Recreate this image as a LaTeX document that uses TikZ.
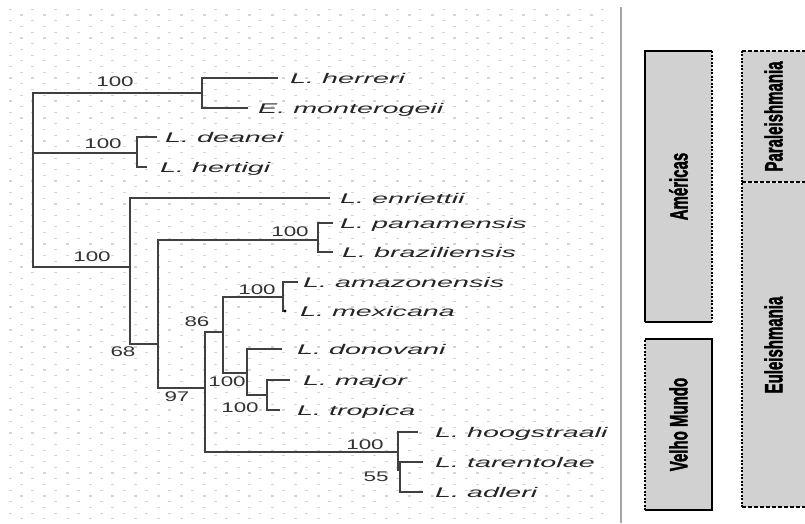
\documentclass[tikz,border=0pt]{standalone}
\usepackage{fontspec}
\setmainfont{Liberation Sans}
\newfontfamily\regionfont[FakeBold=2]{Liberation Sans}
\usepackage{graphicx}
\usetikzlibrary{positioning}

\newcommand{\taxon}[1]{\scalebox{2.05}[1]{\itshape #1}}
\newcommand{\bsval}[1]{\scalebox{1.6}[1]{#1}}
\newcommand{\regname}[1]{\scalebox{0.6}[1]{\regionfont\bfseries #1}}

\begin{document}
\begin{tikzpicture}[x=1pt, y=-1pt,
  branch/.style={draw=black!75, line width=1.4pt},
  taxon/.style={anchor=base west, inner sep=0pt, text=black!85,
                font=\fontsize{14}{16}\selectfont},
  support/.style={inner sep=0pt, text=black!80, font=\fontsize{14}{16}\selectfont},
  bgdot/.style={fill=black!17},
  region/.style={fill=black!18, inner sep=0pt, outer sep=0pt},
  regionname/.style={rotate=90, inner sep=0pt, font=\fontsize{25}{27}\selectfont},
  solidedge/.style={line width=1.6pt},
  dotedge/.style={line width=2pt, dash pattern=on 2pt off 1.5pt},
  dashedge/.style={line width=2pt, dash pattern=on 4pt off 2pt},
  ]
  \useasboundingbox (0,0) rectangle (805,523);
  \fill[white] (0,0) rectangle (805,523);

  % dotted paper behind the tree
  \foreach \j in {0,...,45} {
    \foreach \i in {0,...,26}
      \fill[bgdot] (8.5+22.8*\i, 8.7+11.45*\j) rectangle ++(3,1.2);
    \foreach \i in {0,...,25}
      \fill[bgdot] (20.1+22.8*\i, 14.4+11.45*\j) rectangle ++(3,1.2);
  }
  \draw[black!35, line width=2pt] (621,7) -- (621,523);

  % internal nodes
  \coordinate (root)     at (33,180);
  \coordinate (endo)     at (202,93);
  \coordinate (deaclade) at (137,153);
  \coordinate (leish)    at (130,267);
  \coordinate (leish2)   at (158,344);
  \coordinate (vian)     at (318,240);
  \coordinate (leish3)   at (205,388);
  \coordinate (leish4)   at (223,332);
  \coordinate (mex)      at (283,297);
  \coordinate (don)      at (247,373);
  \coordinate (maj)      at (267,395);
  \coordinate (sauro)    at (398,452);
  \coordinate (sauro2)   at (400,470);

  % tips
  \coordinate (t-herreri)      at (278,78);
  \coordinate (t-monterogeii)  at (248,108);
  \coordinate (t-deanei)       at (157,137);
  \coordinate (t-hertigi)      at (147,167);
  \coordinate (t-enriettii)    at (330,198);
  \coordinate (t-panamensis)   at (333,223);
  \coordinate (t-braziliensis) at (333,252);
  \coordinate (t-amazonensis)  at (298,282);
  \coordinate (t-mexicana)     at (285,311);
  \coordinate (t-donovani)     at (282,349);
  \coordinate (t-major)        at (290,380);
  \coordinate (t-tropica)      at (280,410);
  \coordinate (t-hoogstraali)  at (418,432);
  \coordinate (t-tarentolae)   at (423,462);
  \coordinate (t-adleri)       at (423,492);

  \draw[branch] (root) |- (endo);
  \draw[branch] (root) |- (deaclade);
  \draw[branch] (root) |- (leish);
  \draw[branch] (endo) |- (t-herreri);
  \draw[branch] (endo) |- (t-monterogeii);
  \draw[branch] (deaclade) |- (t-deanei);
  \draw[branch] (deaclade) |- (t-hertigi);
  \draw[branch] (leish) |- (t-enriettii);
  \draw[branch] (leish) |- (leish2);
  \draw[branch] (leish2) |- (vian);
  \draw[branch] (leish2) |- (leish3);
  \draw[branch] (vian) |- (t-panamensis);
  \draw[branch] (vian) |- (t-braziliensis);
  \draw[branch] (leish3) |- (leish4);
  \draw[branch] (leish3) |- (sauro);
  \draw[branch] (leish4) |- (mex);
  \draw[branch] (leish4) |- (don);
  \draw[branch] (mex) |- (t-amazonensis);
  \draw[branch] (mex) |- (t-mexicana);
  \fill[black] (t-mexicana) circle (1.6);
  \draw[branch] (don) |- (t-donovani);
  \draw[branch] (don) |- (maj);
  \draw[branch] (maj) |- (t-major);
  \draw[branch] (maj) |- (t-tropica);
  \draw[branch] (sauro) |- (t-hoogstraali);
  \draw[branch] (sauro) |- (sauro2);
  \draw[branch] (sauro2) |- (t-tarentolae);
  \draw[branch] (sauro2) |- (t-adleri);

  % bootstrap values
  \node[support] (bs-endo)   at (115,82)  {\bsval{100}};
  \node[support] (bs-dea)    at (103,144) {\bsval{100}};
  \node[support] (bs-leish)  at (92,257)  {\bsval{100}};
  \node[support] (bs-vian)   at (290,232) {\bsval{100}};
  \node[support] (bs-leish2) at (123,352) {\bsval{68}};
  \node[support] (bs-leish3) at (177,397) {\bsval{97}};
  \node[support] (bs-leish4) at (197,322) {\bsval{86}};
  \node[support] (bs-mex)    at (257,290) {\bsval{100}};
  \node[support] (bs-don)    at (227,382) {\bsval{100}};
  \node[support] (bs-maj)    at (240,408) {\bsval{100}};
  \node[support] (bs-sauro)  at (365,445) {\bsval{100}};
  \node[support] (bs-sauro2) at (376,477) {\bsval{55}};

  % species names
  \node[taxon] (herreri)      at (290,83)  {\taxon{L. herreri}};
  \node[taxon] (monterogeii)  at (258,113) {\taxon{E. monterogeii}};
  \node[taxon] (deanei)       at (165,142) {\taxon{L. deanei}};
  \node[taxon] (hertigi)      at (160,172) {\taxon{L. hertigi}};
  \node[taxon] (enriettii)    at (340,203) {\taxon{L. enriettii}};
  \node[taxon] (panamensis)   at (340,228) {\taxon{L. panamensis}};
  \node[taxon] (braziliensis) at (342,257) {\taxon{L. braziliensis}};
  \node[taxon] (amazonensis)  at (303,287) {\taxon{L. amazonensis}};
  \node[taxon] (mexicana)     at (300,316) {\taxon{L. mexicana}};
  \node[taxon] (donovani)     at (297,354) {\taxon{L. donovani}};
  \node[taxon] (major)        at (303,385) {\taxon{L. major}};
  \node[taxon] (tropica)      at (297,415) {\taxon{L. tropica}};
  \node[taxon] (hoogstraali)  at (435,437) {\taxon{L. hoogstraali}};
  \node[taxon] (tarentolae)   at (435,467) {\taxon{L. tarentolae}};
  \node[taxon] (adleri)       at (435,497) {\taxon{L. adleri}};

  % geographic and subgenus bars
  \node[region, minimum width=67pt, minimum height=271pt] (americas) at (678.5,186.5) {};
  \node[region, minimum width=67pt, minimum height=171pt] (velho) at (678.5,424.5) {};
  \node[region, minimum width=63pt, minimum height=131pt] (para) at (773.5,116.5) {};
  \node[region, minimum width=63pt, minimum height=324pt] (eu) at (773.5,345) {};

  \draw[solidedge] (americas.south west) -- (americas.north west) -- (americas.north east);
  \draw[dotedge] (americas.north east) -- (americas.south east);
  \draw[solidedge] (americas.south east) -- (americas.south west);
  \draw[dotedge] (velho.south west) -- (velho.north west);
  \draw[solidedge] (velho.north west) -- (velho.north east) -- (velho.south east) -- (velho.south west);
  \draw[dotedge] (para.south west) -- (para.north west);
  \draw[dashedge] (para.north west) -- (para.north east);
  \draw[dashedge] (para.south west) -- (para.south east);
  \draw[dotedge] (eu.south west) -- (eu.north west);
  \draw[dashedge] (eu.south west) -- (eu.south east);

  \node[regionname] (americas-l) at (americas.center) {\regname{Américas}};
  \node[regionname] (velho-l) at (velho.center) {\regname{Velho Mundo}};
  \node[regionname] (para-l) at (para.center) {\regname{Paraleishmania}};
  \node[regionname] (eu-l) at (eu.center) {\regname{Euleishmania}};
\end{tikzpicture}
\end{document}
